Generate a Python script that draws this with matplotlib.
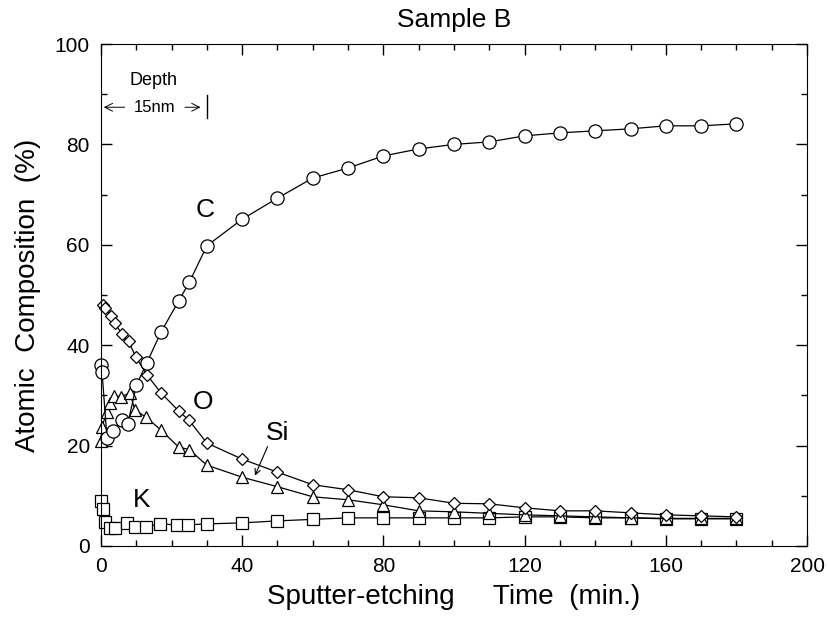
import matplotlib
matplotlib.use('Agg')
import matplotlib.pyplot as plt
from matplotlib.ticker import MultipleLocator

plt.rcParams['font.family'] = ['Liberation Sans', 'DejaVu Sans']

# Sputter times (min.) for the later, evenly spaced measurements
late_t = [30, 40, 50, 60, 70, 80, 90, 100, 110, 120, 130, 140, 150, 160, 170, 180]

# Carbon (circles)
t_c = [0, 0.3, 1.7, 3.4, 5.9, 7.6, 10, 13, 17, 22, 25] + late_t
c = [36, 34.7, 21.5, 23, 25, 24.3, 32, 36.5, 42.6, 48.8, 52.5,
     59.8, 65.1, 69.3, 73.3, 75.3, 77.7, 79.1, 80, 80.5, 81.7, 82.3, 82.7, 83.1, 83.7, 83.7, 84.1]

# Oxygen (diamonds)
t_o = [0.5, 1.1, 2.8, 4.0, 5.9, 7.8, 9.9, 13, 17, 22, 25] + late_t
o = [48, 47.4, 45.8, 44.4, 42.2, 40.8, 37.6, 34.1, 30.5, 26.9, 25,
     20.5, 17.3, 14.7, 12.2, 11.2, 9.8, 9.6, 8.5, 8.4, 7.6, 7.0, 7.0, 6.6, 6.2, 6.0, 5.8]

# Silicon (triangles)
t_si = [0, 0.3, 1.7, 2.5, 3.7, 5.7, 8.2, 9.6, 12.7, 17, 22, 25] + late_t
si = [20.9, 23.8, 26.7, 28.5, 29.9, 29.7, 30.5, 27.1, 25.7, 23.1, 19.7, 19.2,
      16.1, 13.7, 11.8, 9.8, 9.2, 8.2, 7.0, 6.8, 6.5, 6.2, 6.0, 5.8, 5.6, 5.5, 5.5, 5.5]

# Potassium (squares)
t_k = [0, 0.6, 1.1, 2.5, 4, 7.4, 9.6, 12.7, 16.7, 21.5, 24.6] + late_t
k = [9.0, 7.4, 4.8, 3.6, 3.6, 4.6, 3.8, 3.8, 4.4, 4.2, 4.2,
     4.4, 4.6, 5.0, 5.3, 5.6, 5.6, 5.6, 5.6, 5.6, 5.8, 5.8, 5.6, 5.6, 5.4, 5.4, 5.4]

fig = plt.figure(figsize=(8.29, 6.35), dpi=100)
ax = fig.add_axes([0.1218, 0.1402, 0.8517, 0.7905])

# open black markers joined by thin lines; not clipped at the axis edge
style = dict(color='black', lw=0.9, mfc='white', mec='black', mew=0.9, clip_on=False)
ax.plot(t_k, k, marker='s', ms=8.5, **style)
ax.plot(t_si, si, marker='^', ms=9, **style)
ax.plot(t_o, o, marker='D', ms=6.5, **style)
ax.plot(t_c, c, marker='o', ms=9.5, **style)

ax.set_xlim(0, 200)
ax.set_ylim(0, 100)
ax.xaxis.set_major_locator(MultipleLocator(40))
ax.xaxis.set_minor_locator(MultipleLocator(10))
ax.yaxis.set_major_locator(MultipleLocator(20))
ax.yaxis.set_minor_locator(MultipleLocator(10))
ax.tick_params(which='both', direction='in', top=True, right=True, width=1)
ax.tick_params(which='major', length=8, labelsize=15, pad=8)
ax.tick_params(which='minor', length=4)

ax.set_title('Sample B', fontsize=19, pad=12)
ax.set_xlabel('Sputter-etching     Time  (min.)', fontsize=20, labelpad=6)
ax.set_ylabel('Atomic  Composition  (%)', fontsize=20, labelpad=10)

# element labels
ax.text(29.5, 67, 'C', fontsize=19, ha='center', va='center')
ax.text(29, 28.7, 'O', fontsize=19, ha='center', va='center')
ax.text(50, 22.5, 'Si', fontsize=19, ha='center', va='center')
ax.text(11.6, 9.2, 'K', fontsize=19, ha='center', va='center')
ax.annotate('', xy=(43.3, 13.5), xytext=(47.5, 20.3),
            arrowprops=dict(arrowstyle='->', color='black', lw=0.8))

# depth annotation
ax.text(15, 92.8, 'Depth', fontsize=13, ha='center', va='center')
ax.text(15.3, 87.4, '15nm', fontsize=12, ha='center', va='center')
ax.annotate('', xy=(0, 87.4), xytext=(7.5, 87.4),
            arrowprops=dict(arrowstyle='->', color='black', lw=0.7, mutation_scale=14))
ax.annotate('', xy=(29, 87.4), xytext=(23, 87.4),
            arrowprops=dict(arrowstyle='->', color='black', lw=0.7, mutation_scale=14))
ax.plot([30, 30], [85.2, 89.8], color='black', lw=1)

fig.savefig('out.png', dpi=100)
